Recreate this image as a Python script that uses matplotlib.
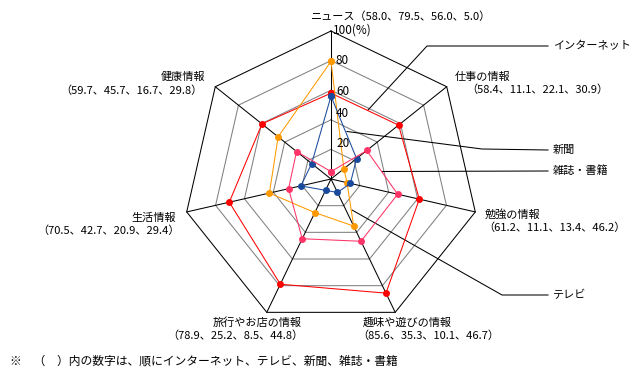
import matplotlib
matplotlib.use('Agg')
import matplotlib.pyplot as plt
import numpy as np

plt.rcParams['font.family'] = ['Noto Sans CJK JP', 'DejaVu Sans']

# axes, clockwise from top
categories = ['ニュース', '仕事の情報', '勉強の情報', '趣味や遊びの情報',
              '旅行やお店の情報', '生活情報', '健康情報']
internet = [58.0, 58.4, 61.2, 85.6, 78.9, 70.5, 59.7]
tv = [79.5, 11.1, 11.1, 35.3, 25.2, 42.7, 45.7]
newspaper = [56.0, 22.1, 13.4, 10.1, 8.5, 20.9, 16.7]
magazine = [5.0, 30.9, 46.2, 46.7, 44.8, 29.4, 29.8]
series_names = ['インターネット', 'テレビ', '新聞', '雑誌・書籍']
ring_ticks = [20, 40, 60, 80, 100]

colors = ['#ff0000', '#ff9900', '#1a4a9c', '#ff3366']

W, H = 633, 375
CX, CY, SC = 331, 179, 1.48   # centre in pixels, pixels per %

fig = plt.figure(figsize=(W / 100, H / 100), dpi=100)
ax = fig.add_axes([0, 0, 1, 1])
ax.set_xlim(-CX / SC, (W - CX) / SC)
ax.set_ylim(-(H - CY) / SC, CY / SC)
ax.axis('off')

n = len(categories)
ang = np.pi / 2 - 2 * np.pi * np.arange(n) / n


def xy(vals):
    v = np.asarray(vals, dtype=float)
    return v * np.cos(ang), v * np.sin(ang)


def px(x, y):
    # pixel position -> data coords (for labels / leader lines)
    return (x - CX) / SC, (CY - y) / SC


# grid rings
for r in ring_ticks:
    gx, gy = xy([r] * n)
    ax.plot(np.append(gx, gx[0]), np.append(gy, gy[0]),
            color='black' if r == 100 else '#808080', lw=0.75, zorder=1)
# spokes
ox, oy = xy([100] * n)
for i in range(n):
    ax.plot([0, ox[i]], [0, oy[i]], color='black', lw=0.75, zorder=1)

# series
for vals, c in zip([internet, tv, newspaper, magazine], colors):
    sx, sy = xy(vals)
    ax.plot(np.append(sx, sx[0]), np.append(sy, sy[0]), color=c, lw=0.75,
            marker='o', markersize=5, markeredgewidth=0, zorder=3)

# tick labels on the top spoke
tick_pos = {20: 24, 40: 44, 60: 59, 80: 80}
for t, p in tick_pos.items():
    ax.text(px(CX + 5, 0)[0], p, str(t), fontsize=8.5, va='center', ha='left')
ax.text(*px(333, 30), '100(%)', fontsize=8.5, va='center', ha='left')

# category labels with values
def vtxt(i):
    return '（' + '、'.join(str(s[i]) for s in [internet, tv, newspaper, magazine]) + '）'

fs = 8
ax.text(*px(311, 17), categories[0] + vtxt(0), fontsize=fs, ha='left', va='center')
ax.text(*px(455, 77), categories[1], fontsize=fs, ha='left', va='center')
ax.text(*px(466, 90), vtxt(1), fontsize=fs, ha='left', va='center')
ax.text(*px(485, 214), categories[2], fontsize=fs, ha='left', va='center')
ax.text(*px(483, 228), vtxt(2), fontsize=fs, ha='left', va='center')
ax.text(*px(363, 323), categories[3], fontsize=fs, ha='left', va='center')
ax.text(*px(357, 336), vtxt(3), fontsize=fs, ha='left', va='center')
ax.text(*px(302, 323), categories[4], fontsize=fs, ha='right', va='center')
ax.text(*px(303, 336), vtxt(4), fontsize=fs, ha='right', va='center')
ax.text(*px(176, 218), categories[5], fontsize=fs, ha='right', va='center')
ax.text(*px(180, 231), vtxt(5), fontsize=fs, ha='right', va='center')
ax.text(*px(205, 77), categories[6], fontsize=fs, ha='right', va='center')
ax.text(*px(203, 91), vtxt(6), fontsize=fs, ha='right', va='center')

# series name leader lines
leaders = [
    [(548, 46), (427, 46), (368, 110)],
    [(548, 295), (502, 295), (352, 210)],
    [(548, 150), (482, 149), (347, 131.5)],
    [(548, 171), (382, 171.5)],
]
label_y = [46, 295, 150, 171]
for name, pts, ly in zip(series_names, leaders, label_y):
    lx, lyy = zip(*[px(a, b) for a, b in pts])
    ax.plot(lx, lyy, color='black', lw=0.75, zorder=2)
    ax.text(*px(553, ly), name, fontsize=fs, ha='left', va='center')

ax.text(*px(10, 361), '※　（　）内の数字は、順にインターネット、テレビ、新聞、雑誌・書籍',
        fontsize=8.5, ha='left', va='center')

fig.savefig('out.png', dpi=100)
